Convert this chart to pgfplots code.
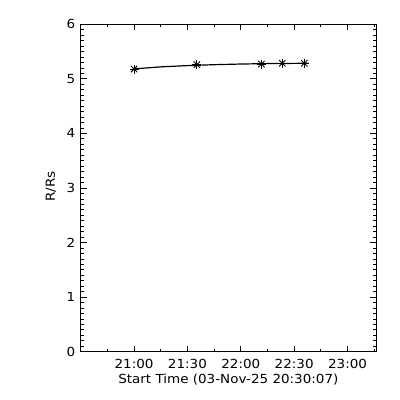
\documentclass[border=0pt]{standalone}
\usepackage{pgfplots}
\pgfplotsset{compat=1.18}
\usepackage{fontspec}
\setmainfont[FakeStretch=1.08]{DejaVu Sans}
\begin{document}
\begin{tikzpicture}[x=1pt,y=1pt]
\useasboundingbox (0,0) rectangle (400,400);
\begin{axis}[
  at={(80.7pt,48.3pt)}, anchor=south west,
  scale only axis, width=295.3pt, height=327.4pt,
  xmin=0, xmax=166, ymin=0, ymax=6,
  xtick={30,60,90,120,150},
  xticklabels={21:00,21:30,22:00,22:30,23:00},
  minor xtick={15,45,75,105,135,165},
  ytick={0,1,2,3,4,5,6},
  minor y tick num=9,
  tick align=inside,
  major tick length=6pt, minor tick length=3pt,
  axis line style={line width=0.8pt},
  every tick/.style={black, line width=0.8pt},
  font=\fontsize{12.5}{14}\selectfont,
  /pgf/number format/assume math mode=true,
  xticklabel style={anchor=base, yshift=-17pt},
  yticklabel style={anchor=east, xshift=-2pt},
  xlabel={Start Time (03-Nov-25 20:30:07)},
  ylabel={R/Rs},
  xlabel style={at={(axis description cs:0.5,0)}, anchor=base, yshift=-32pt},
  ylabel style={at={(axis description cs:-0.1006,0.5046)}, anchor=center},
]
\addplot[black, line width=1.2pt] coordinates {
 (30,5.183) (45,5.220) (60,5.243) (75,5.260) (90,5.272) (105,5.280) (120,5.284) (128,5.286)
};
\addplot[only marks, mark=+, mark size=4.5pt, mark options={line width=0.9pt}] coordinates {
 (30,5.18) (65.3,5.26) (101.6,5.27) (113.3,5.287) (125.7,5.287)
};
\addplot[only marks, mark=x, mark size=4.5pt, mark options={line width=0.9pt}] coordinates {
 (30,5.18) (65.3,5.26) (101.6,5.27) (113.3,5.287) (125.7,5.287)
};
\end{axis}
\end{tikzpicture}
\end{document}
